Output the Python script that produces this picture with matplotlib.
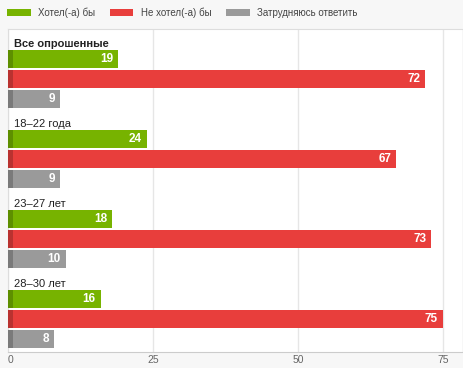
import matplotlib
matplotlib.use("Agg")
import matplotlib.pyplot as plt
from matplotlib.patches import Patch

plt.rcParams["font.family"] = ["Liberation Sans", "DejaVu Sans"]

groups = ["Все опрошенные", "18–22 года", "23–27 лет", "28–30 лет"]
series = ["Хотел(-а) бы", "Не хотел(-а) бы", "Затрудняюсь ответить"]
values = [
    [19, 72, 9],
    [24, 67, 9],
    [18, 73, 10],
    [16, 75, 8],
]
colors = ["#77b300", "#e83e3c", "#9a9a9a"]
dark = ["#5e8f00", "#b93230", "#7a7a7a"]

fig = plt.figure(figsize=(4.63, 3.68), dpi=100, facecolor="#f7f7f7")
ax = fig.add_axes([8 / 463, 1 - 352 / 368, 454 / 463, 323 / 368])
ax.set_facecolor("white")

for gi, (g, vals) in enumerate(zip(groups, values)):
    base = gi * 4
    ax.text(1.1, base + 0.75, g, fontsize=8, va="center", ha="left",
            color="#222222", fontweight="bold" if gi == 0 else "normal")
    for si, v in enumerate(vals):
        y = base + 1.5 + si
        ax.barh(y, v, height=0.88, color=colors[si], zorder=3)
        ax.barh(y, 0.8, height=0.88, color=dark[si], zorder=4)
        ax.text(v - 0.9, y, str(v), color="white", fontsize=8.5,
                fontweight="bold", ha="right", va="center", zorder=5)

ax.set_xlim(0, 78.3)
ax.set_ylim(16.15, 0)
ax.set_xticks([0, 25, 50, 75])
ax.set_yticks([])
ax.grid(axis="x", color="#e6e6e6", linewidth=1, zorder=0)
ax.tick_params(axis="x", length=0, labelsize=7.5, labelcolor="#666666", pad=2)
ax.get_xticklabels()[0].set_horizontalalignment("left")
for s in ax.spines.values():
    s.set_color("#dddddd")
ax.spines["bottom"].set_color("#cccccc")
ax.spines["right"].set_visible(False)

handles = [Patch(facecolor=c, edgecolor="none") for c in colors]
fig.legend(handles, series, loc="upper left", bbox_to_anchor=(0.0, 1.0),
           ncol=3, frameon=False, fontsize=7, handlelength=2.4,
           handleheight=0.8, columnspacing=1.55, handletextpad=0.75,
           labelcolor="#444444", borderaxespad=0.35)

fig.savefig("out.png", dpi=100, facecolor=fig.get_facecolor())
